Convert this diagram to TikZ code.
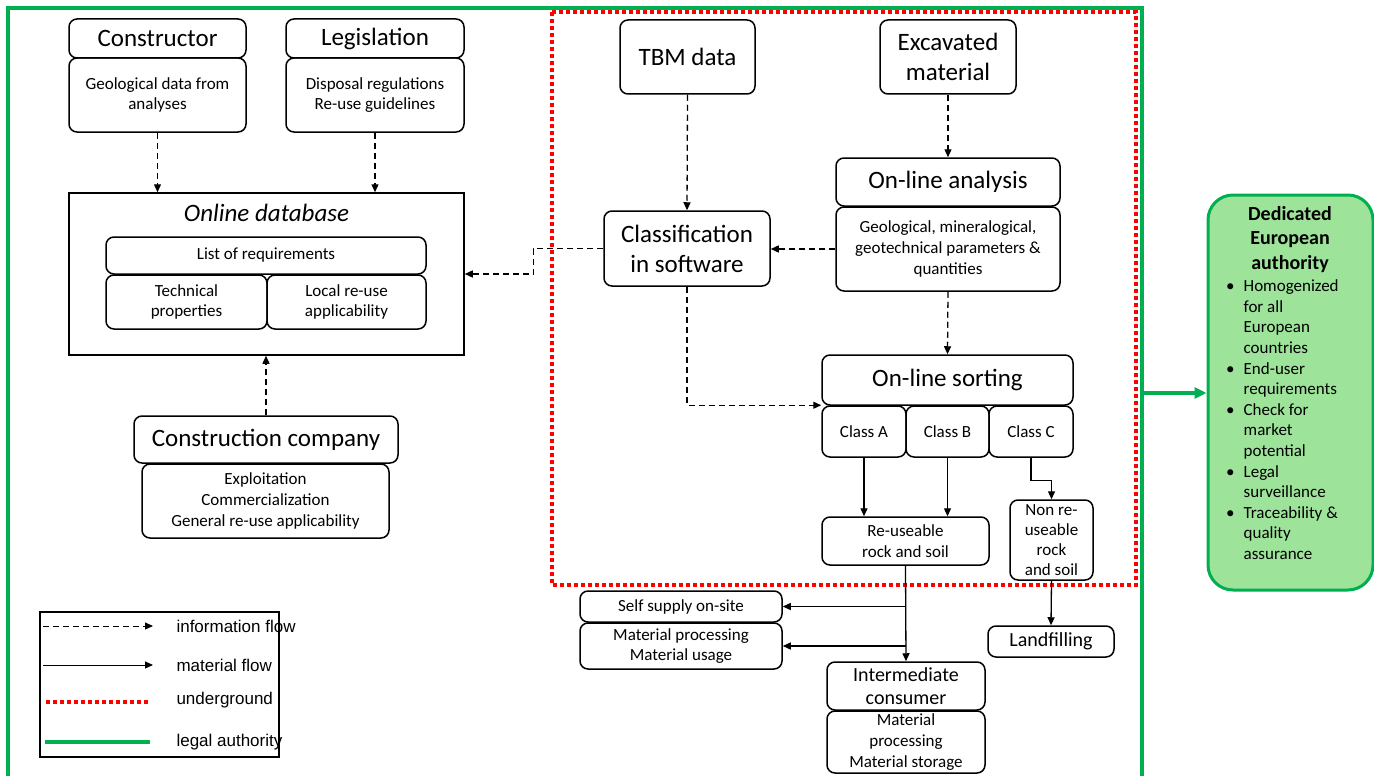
\documentclass[tikz,border=0pt]{standalone}
\usepackage{fontspec}
\setmainfont{Carlito}
\newfontfamily\legendfont{Liberation Sans}
\usetikzlibrary{arrows.meta,calc,positioning}
\definecolor{legalgreen}{RGB}{0,176,80}
\definecolor{authfill}{RGB}{157,227,153}

\begin{document}
\begin{tikzpicture}[x=1pt, y=-1pt, >={Triangle[length=8pt,width=7pt]},
    box/.style={draw, rounded corners=8pt, line width=1.5pt, align=center, inner sep=1pt},
    big/.style={font=\fontsize{25}{30}\selectfont},
    mid/.style={font=\fontsize{20}{23.5}\selectfont},
    small/.style={font=\fontsize{17}{20.6}\selectfont},
    info/.style={->, line width=1.3pt, dash pattern=on 6pt off 4pt},
    mat/.style={->, line width=1.3pt},
    under/.style={red, line width=4pt, dash pattern=on 4pt off 3pt},
    legal/.style={legalgreen, line width=4pt}]
    \useasboundingbox (0,0) rectangle (1374,776);

    % legal authority frame and underground zone
    \draw[legal] (8,790) -- (8,8) -- (1142,8) -- (1142,790);
    \draw[under] (552,12) rectangle (1136,585);

    % Constructor, legislation, database
    \node[box, big, minimum width=177, minimum height=39] (constr) at (157.5,38.5) {Constructor};
    \node[box, small, minimum width=177, minimum height=74] (constrB) at (157.5,95) {Geological data from\\analyses};
    \node[box, big, minimum width=178, minimum height=39] (legis) at (375,38.5) {Legislation};
    \node[box, small, minimum width=178, minimum height=74] (legisB) at (375,95) {Disposal regulations\\Re-use guidelines};
    \node[draw, line width=1.5pt, minimum width=395, minimum height=162] (db) at (266.5,274) {};
    \node[big, font=\fontsize{25}{30}\selectfont\itshape] (dbtitle) at (266.5,213) {Online database};
    \node[box, small, minimum width=320, minimum height=37] (req) at (266,255.5) {List of requirements};
    \node[box, small, minimum width=161, minimum height=54] (tech) at (186.5,302) {Technical\\properties};
    \node[box, small, minimum width=159, minimum height=54] (local) at (346.5,302) {Local re-use\\applicability};
    \node[box, big, minimum width=264, minimum height=47] (company) at (266,439.5) {Construction company};
    \node[box, small, minimum width=247, minimum height=74] (companyB) at (265.5,501) {Exploitation\\Commercialization\\General re-use applicability};

    \draw[info] (constrB.south) -- (constrB.south |- db.north);
    \draw[info] (legisB.south) -- (legisB.south |- db.north);
    \draw[info] (company.north) -- (company.north |- db.south);

    % underground part
    \node[box, big, minimum width=135, minimum height=74] (tbm) at (687.5,57) {TBM data};
    \node[box, big, minimum width=136, minimum height=74] (excav) at (948,57) {Excavated\\material};
    \node[box, big, minimum width=166, minimum height=75] (classif) at (687,248.5) {Classification\\in software};
    \node[box, big, minimum width=224, minimum height=48] (analysis) at (948,182) {On-line analysis};
    \node[box, small, minimum width=224, minimum height=84] (analysisB) at (948,249) {Geological, mineralogical,\\geotechnical parameters \&\\quantities};
    \node[box, big, minimum width=251, minimum height=50] (sorting) at (947.5,380) {On-line sorting};
    \node[box, small, minimum width=84, minimum height=51] (clA) at (864,431.5) {Class A};
    \node[box, small, minimum width=83, minimum height=51] (clB) at (947.5,431.5) {Class B};
    \node[box, small, minimum width=84, minimum height=51] (clC) at (1031,431.5) {Class C};
    \node[box, small, minimum width=167, minimum height=48] (reuse) at (905.5,541) {Re-useable\\rock and soil};
    \node[box, small, font=\fontsize{17}{20}\selectfont, minimum width=83, minimum height=80] (nonreuse) at (1051.5,540) {Non re-\\useable\\rock\\and soil};

    \draw[info] (tbm.south) -- (classif.north);
    \draw[info] (excav.south) -- (analysis.north);
    \draw[info] (analysisB.west) -- (analysisB.west -| classif.east);
    \draw[info] (classif.west) -- ++(-70,0) |- (db.east);
    \draw[info] (classif.south) |- (clA.north west);
    \draw[info] (analysisB.south) -- (sorting.north);
    \draw[mat] (clA.south) -- (clA.south |- reuse.north);
    \draw[mat] (clB.south) -- (clB.south |- reuse.north);
    \draw[mat] (clC.south) -- ++(0,23) -| (nonreuse.north);

    % above ground
    \node[box, mid, minimum width=126, minimum height=31] (landfill) at (1051,641.5) {Landfilling};
    \node[box, small, minimum width=202, minimum height=31] (selfsup) at (681,606.5) {Self supply on-site};
    \node[box, small, minimum width=202, minimum height=46] (matproc) at (681,646) {Material processing\\Material usage};
    \node[box, mid, minimum width=158, minimum height=48] (inter) at (906,686) {Intermediate\\consumer};
    \node[box, small, minimum width=158, minimum height=62] (interB) at (906,742) {Material\\processing\\Material storage};

    \draw[mat] (nonreuse.south) -- (landfill.north);
    \draw[mat] (reuse.south) -- (inter.north);
    \draw[mat] (reuse.south |- selfsup.east) -- (selfsup.east);
    \draw[mat] (reuse.south |- matproc.east) -- (matproc.east);

    % European authority
    \node[draw=legalgreen, fill=authfill, line width=3pt, rounded corners=25pt, minimum width=165, minimum height=395] (auth) at (1290.5,392.5) {};
    \node[font=\fontsize{20}{24.5}\selectfont\bfseries, align=center] (authtitle) at (1290,239.5) {Dedicated\\European\\authority};
    \node[small, anchor=north west, inner sep=0pt] (authlist) at (1226,277) {%
      \begin{tabular}{@{}l@{\hspace{9pt}}l@{}}
        \textbullet & Homogenized\\ & for all\\ & European\\ & countries\\
        \textbullet & End-user\\ & requirements\\
        \textbullet & Check for\\ & market\\ & potential\\
        \textbullet & Legal\\ & surveillance\\
        \textbullet & Traceability \&\\ & quality\\ & assurance
      \end{tabular}};
    \coordinate (legalR) at (1142,393);
    \draw[legal, ->, >={Triangle[length=12pt,width=11pt]}] (legalR) -- (auth.west |- legalR);

    % legend
    \node[draw, line width=1.2pt, minimum width=239, minimum height=145] (legend) at (159.5,684.5) {};
    \coordinate (infoA) at (43,626);   \coordinate (infoB) at (153,626);
    \coordinate (matA) at (43,665);    \coordinate (matB) at (153,665);
    \coordinate (undA) at (46,702);    \coordinate (undB) at (150,702);
    \coordinate (legA) at (45,742);    \coordinate (legB) at (150,742);
    \draw[info, line width=1pt] (infoA) -- (infoB);
    \draw[mat, line width=1pt] (matA) -- (matB);
    \draw[under, line width=3.5pt] (undA) -- (undB);
    \draw[legal] (legA) -- (legB);
    \node[anchor=west, font=\legendfont\fontsize{17}{20}\selectfont] (infotxt) at (173,626) {information flow};
    \node[anchor=west, font=\legendfont\fontsize{17}{20}\selectfont] (mattxt) at (173,665) {material flow};
    \node[anchor=west, font=\legendfont\fontsize{17}{20}\selectfont] (undtxt) at (173,700) {underground};
    \node[anchor=west, font=\legendfont\fontsize{17}{20}\selectfont] (legtxt) at (173,742) {legal authority};
\end{tikzpicture}
\end{document}
